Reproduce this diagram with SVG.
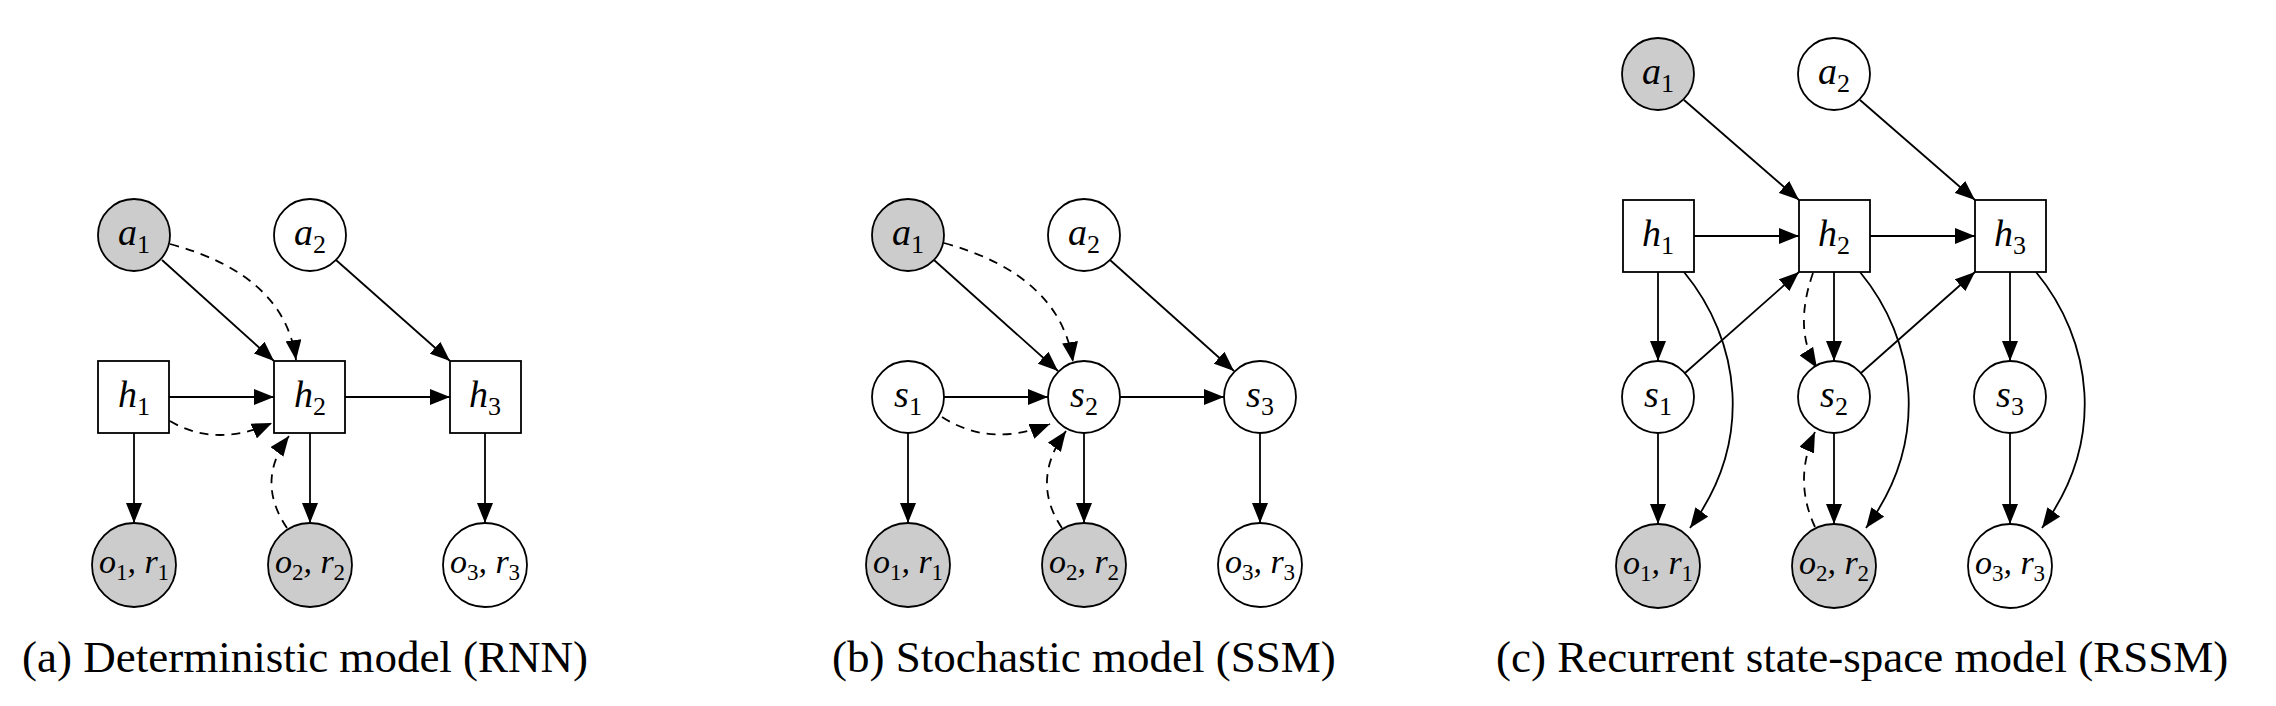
<svg xmlns="http://www.w3.org/2000/svg" width="2276" height="706" viewBox="0 0 2276 706">
<defs>
<marker id="ah" markerUnits="userSpaceOnUse" markerWidth="20" markerHeight="16" viewBox="0 0 20 16" refX="20" refY="8" orient="auto"><path d="M0,0 L20,8 L0,16 Z" fill="#000"/></marker>
</defs>
<style>
.obs{fill:#cccccc;stroke:#000;stroke-width:1.8}
.lat{fill:#fff;stroke:#000;stroke-width:1.8}
text{font-family:'Liberation Serif','Times New Roman','DejaVu Serif',serif}
.lbl{font-style:italic;font-size:38px;text-anchor:middle}
.lbl tspan{font-style:normal;font-size:26px}
.olbl{font-style:italic;font-size:34px;text-anchor:middle}
.olbl tspan.s{font-style:normal;font-size:23px}
.cap{font-size:45px}
.e{fill:none;stroke:#000;stroke-width:1.8;marker-end:url(#ah)}
.d{fill:none;stroke:#000;stroke-width:1.8;stroke-dasharray:9,7;marker-end:url(#ah)}
</style>
<g id="connectors">
<path class="e" d="M162,260 L274,361"/>
<path class="e" d="M336,260 L450,361"/>
<path class="e" d="M169,397 L274,397"/>
<path class="e" d="M345,397 L450,397"/>
<path class="e" d="M134,433 L134,523"/>
<path class="e" d="M310,433 L310,523"/>
<path class="e" d="M485,433 L485,523"/>
<path class="d" d="M170,244 Q285,275 296,360"/>
<path class="d" d="M170,421 Q215,448 272,423"/>
<path class="d" d="M287,528 Q255,481 289,436"/>
<path class="e" d="M934,260 L1058,371"/>
<path class="e" d="M1110,260 L1234,371"/>
<path class="e" d="M944,397 L1048,397"/>
<path class="e" d="M1120,397 L1224,397"/>
<path class="e" d="M908,433 L908,523"/>
<path class="e" d="M1084,433 L1084,523"/>
<path class="e" d="M1260,433 L1260,523"/>
<path class="d" d="M944,243 Q1060,275 1073,362"/>
<path class="d" d="M942,417 Q990,448 1050,424"/>
<path class="d" d="M1062,528 Q1030,481 1066,431"/>
<path class="e" d="M1684,100 L1799,200"/>
<path class="e" d="M1860,100 L1975,200"/>
<path class="e" d="M1694,236 L1799,236"/>
<path class="e" d="M1870,236 L1975,236"/>
<path class="e" d="M1658,272 L1658,361"/>
<path class="e" d="M1834,272 L1834,361"/>
<path class="e" d="M2010,272 L2010,361"/>
<path class="e" d="M1658,433 L1658,524"/>
<path class="e" d="M1834,433 L1834,524"/>
<path class="e" d="M2010,433 L2010,524"/>
<path class="e" d="M1685,373 L1799,272"/>
<path class="e" d="M1861,373 L1975,272"/>
<path class="e" d="M1684,272 C1740,340 1755,440 1690,528"/>
<path class="e" d="M1860,272 C1916,340 1931,440 1866,528"/>
<path class="e" d="M2036,272 C2092,340 2107,440 2042,528"/>
<path class="d" d="M1813,273 Q1793,330 1817,368"/>
<path class="d" d="M1815,527 Q1793,480 1815,432"/>
</g>
<g id="a-a1"><circle class="obs" cx="134" cy="235" r="36"/><text class="lbl" x="134" y="245">a<tspan dy="8">1</tspan></text></g>
<g id="a-a2"><circle class="lat" cx="310" cy="235" r="36"/><text class="lbl" x="310" y="245">a<tspan dy="8">2</tspan></text></g>
<g id="a-h1"><rect class="lat" x="98" y="361" width="71" height="72"/><text class="lbl" x="134" y="407">h<tspan dy="8">1</tspan></text></g>
<g id="a-h2"><rect class="lat" x="274" y="361" width="71" height="72"/><text class="lbl" x="310" y="407">h<tspan dy="8">2</tspan></text></g>
<g id="a-h3"><rect class="lat" x="450" y="361" width="71" height="72"/><text class="lbl" x="485" y="407">h<tspan dy="8">3</tspan></text></g>
<g id="a-o1"><circle class="obs" cx="134" cy="565" r="42"/><text class="olbl" x="134" y="573">o<tspan class="s" dy="7">1</tspan><tspan dy="-7">, r</tspan><tspan class="s" dy="7">1</tspan></text></g>
<g id="a-o2"><circle class="obs" cx="310" cy="565" r="42"/><text class="olbl" x="310" y="573">o<tspan class="s" dy="7">2</tspan><tspan dy="-7">, r</tspan><tspan class="s" dy="7">2</tspan></text></g>
<g id="a-o3"><circle class="lat" cx="485" cy="565" r="42"/><text class="olbl" x="485" y="573">o<tspan class="s" dy="7">3</tspan><tspan dy="-7">, r</tspan><tspan class="s" dy="7">3</tspan></text></g>
<text class="cap" x="22" y="672">(a) Deterministic model (RNN)</text>
<g id="b-a1"><circle class="obs" cx="908" cy="235" r="36"/><text class="lbl" x="908" y="245">a<tspan dy="8">1</tspan></text></g>
<g id="b-a2"><circle class="lat" cx="1084" cy="235" r="36"/><text class="lbl" x="1084" y="245">a<tspan dy="8">2</tspan></text></g>
<g id="b-s1"><circle class="lat" cx="908" cy="397" r="36"/><text class="lbl" x="908" y="407">s<tspan dy="8">1</tspan></text></g>
<g id="b-s2"><circle class="lat" cx="1084" cy="397" r="36"/><text class="lbl" x="1084" y="407">s<tspan dy="8">2</tspan></text></g>
<g id="b-s3"><circle class="lat" cx="1260" cy="397" r="36"/><text class="lbl" x="1260" y="407">s<tspan dy="8">3</tspan></text></g>
<g id="b-o1"><circle class="obs" cx="908" cy="565" r="42"/><text class="olbl" x="908" y="573">o<tspan class="s" dy="7">1</tspan><tspan dy="-7">, r</tspan><tspan class="s" dy="7">1</tspan></text></g>
<g id="b-o2"><circle class="obs" cx="1084" cy="565" r="42"/><text class="olbl" x="1084" y="573">o<tspan class="s" dy="7">2</tspan><tspan dy="-7">, r</tspan><tspan class="s" dy="7">2</tspan></text></g>
<g id="b-o3"><circle class="lat" cx="1260" cy="565" r="42"/><text class="olbl" x="1260" y="573">o<tspan class="s" dy="7">3</tspan><tspan dy="-7">, r</tspan><tspan class="s" dy="7">3</tspan></text></g>
<text class="cap" x="832" y="672">(b) Stochastic model (SSM)</text>
<g id="c-a1"><circle class="obs" cx="1658" cy="74" r="36"/><text class="lbl" x="1658" y="84">a<tspan dy="8">1</tspan></text></g>
<g id="c-a2"><circle class="lat" cx="1834" cy="74" r="36"/><text class="lbl" x="1834" y="84">a<tspan dy="8">2</tspan></text></g>
<g id="c-h1"><rect class="lat" x="1623" y="200" width="71" height="72"/><text class="lbl" x="1658" y="246">h<tspan dy="8">1</tspan></text></g>
<g id="c-h2"><rect class="lat" x="1799" y="200" width="71" height="72"/><text class="lbl" x="1834" y="246">h<tspan dy="8">2</tspan></text></g>
<g id="c-h3"><rect class="lat" x="1975" y="200" width="71" height="72"/><text class="lbl" x="2010" y="246">h<tspan dy="8">3</tspan></text></g>
<g id="c-s1"><circle class="lat" cx="1658" cy="397" r="36"/><text class="lbl" x="1658" y="407">s<tspan dy="8">1</tspan></text></g>
<g id="c-s2"><circle class="lat" cx="1834" cy="397" r="36"/><text class="lbl" x="1834" y="407">s<tspan dy="8">2</tspan></text></g>
<g id="c-s3"><circle class="lat" cx="2010" cy="397" r="36"/><text class="lbl" x="2010" y="407">s<tspan dy="8">3</tspan></text></g>
<g id="c-o1"><circle class="obs" cx="1658" cy="566" r="42"/><text class="olbl" x="1658" y="574">o<tspan class="s" dy="7">1</tspan><tspan dy="-7">, r</tspan><tspan class="s" dy="7">1</tspan></text></g>
<g id="c-o2"><circle class="obs" cx="1834" cy="566" r="42"/><text class="olbl" x="1834" y="574">o<tspan class="s" dy="7">2</tspan><tspan dy="-7">, r</tspan><tspan class="s" dy="7">2</tspan></text></g>
<g id="c-o3"><circle class="lat" cx="2010" cy="566" r="42"/><text class="olbl" x="2010" y="574">o<tspan class="s" dy="7">3</tspan><tspan dy="-7">, r</tspan><tspan class="s" dy="7">3</tspan></text></g>
<text class="cap" x="1496" y="672">(c) Recurrent state-space model (RSSM)</text>
</svg>
